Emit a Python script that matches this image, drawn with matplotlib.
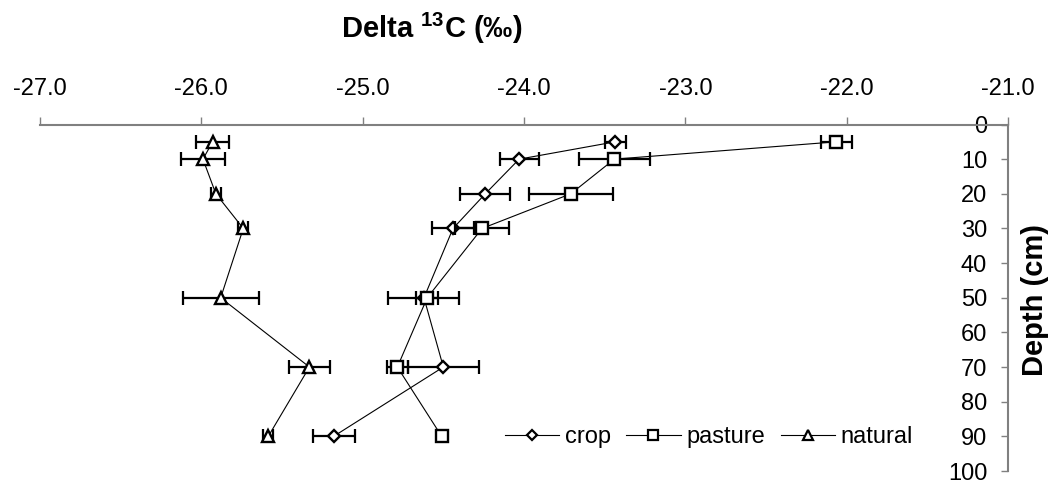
import matplotlib
matplotlib.use("Agg")
import matplotlib.pyplot as plt
from matplotlib.lines import Line2D

plt.rcParams['font.family'] = ['Liberation Sans', 'DejaVu Sans']
plt.rcParams['axes.unicode_minus'] = False

# ---- data ----
depth = [5, 10, 20, 30, 50, 70, 90]
crop = [-23.435, -24.03, -24.24, -24.44, -24.62, -24.50, -25.18]
crop_err = [0.065, 0.12, 0.155, 0.13, 0.22, 0.22, 0.13]
pasture = [-22.065, -23.44, -23.71, -24.26, -24.60, -24.785, -24.51]
pasture_err = [0.096, 0.22, 0.26, 0.165, 0.07, 0.066, 0.0]
natural = [-25.93, -25.99, -25.91, -25.74, -25.88, -25.33, -25.585]
natural_err = [0.10, 0.135, 0.03, 0.03, 0.235, 0.125, 0.03]

x_ticks = [-27.0, -26.0, -25.0, -24.0, -23.0, -22.0, -21.0]
x_ticklabels = ["-27.0", "-26.0", "-25.0", "-24.0", "-23.0", "-22.0", "-21.0"]
y_ticks = [0, 10, 20, 30, 40, 50, 60, 70, 80, 90, 100]
series_names = ["crop", "pasture", "natural"]

W, H = 1050, 484
fig = plt.figure(figsize=(W / 100, H / 100), dpi=100)
ax = fig.add_axes([40 / W, 13 / H, (1008 - 40) / W, (471 - 124.5) / H])

styles = [
    dict(marker='D', ms=6.5),
    dict(marker='s', ms=8.8),
    dict(marker='^', ms=9.2),
]
handles = []
for (vals, errs, st, name, z) in zip([crop, pasture, natural],
                                    [crop_err, pasture_err, natural_err],
                                    styles, series_names, [3, 4, 5]):
    ax.errorbar(vals, depth, xerr=errs, fmt='none', ecolor='black',
                elinewidth=1.6, capsize=5, capthick=1.6, zorder=z)
    ax.plot(vals, depth, color='black', lw=0.8, marker=st['marker'],
            ms=st['ms'], mfc='white', mec='black', mew=1.7, zorder=z + 0.5,
            clip_on=False)
    handles.append(Line2D([], [], color='black', lw=0.8, marker=st['marker'],
                          ms=st['ms'] * 0.85, mfc='white', mec='black', mew=1.6,
                          label=name))

ax.set_xlim(-27, -21)
ax.set_ylim(100, 0)

ax.xaxis.tick_top()
ax.set_xticks(x_ticks)
ax.set_xticklabels(x_ticklabels)
ax.set_yticks(y_ticks)
ax.set_yticklabels([str(v) for v in y_ticks])

for s in ['right', 'bottom']:
    ax.spines[s].set_visible(False)
ax.spines['left'].set_position(('data', -21))
for s in ['top', 'left']:
    ax.spines[s].set_color('#808080')
    ax.spines[s].set_linewidth(1.5)

ax.tick_params(axis='x', which='both', direction='out', length=5.5, width=1,
               color='#808080', labelsize=17, pad=12, top=True, bottom=False)
ax.tick_params(axis='y', which='both', direction='out', length=5, width=1,
               color='#808080', labelsize=17, pad=10)
ax.patch.set_visible(False)

fig.text(432 / W, 1 - 38.5 / H, r"Delta $\mathregular{^{13}}$C (‰)",
         fontsize=21, fontweight='bold', ha='center', va='baseline')
fig.text(1035 / W, 1 - 300 / H, "Depth (cm)", fontsize=21, fontweight='bold',
         ha='center', va='center', rotation=90)

fig.legend(handles=handles, loc='center', bbox_to_anchor=(709 / W, 1 - 437 / H),
           ncol=3, frameon=False, fontsize=17, handlelength=2.3,
           handletextpad=0.25, columnspacing=0.65, borderpad=0, borderaxespad=0)

fig.savefig("out.png", dpi=100)
